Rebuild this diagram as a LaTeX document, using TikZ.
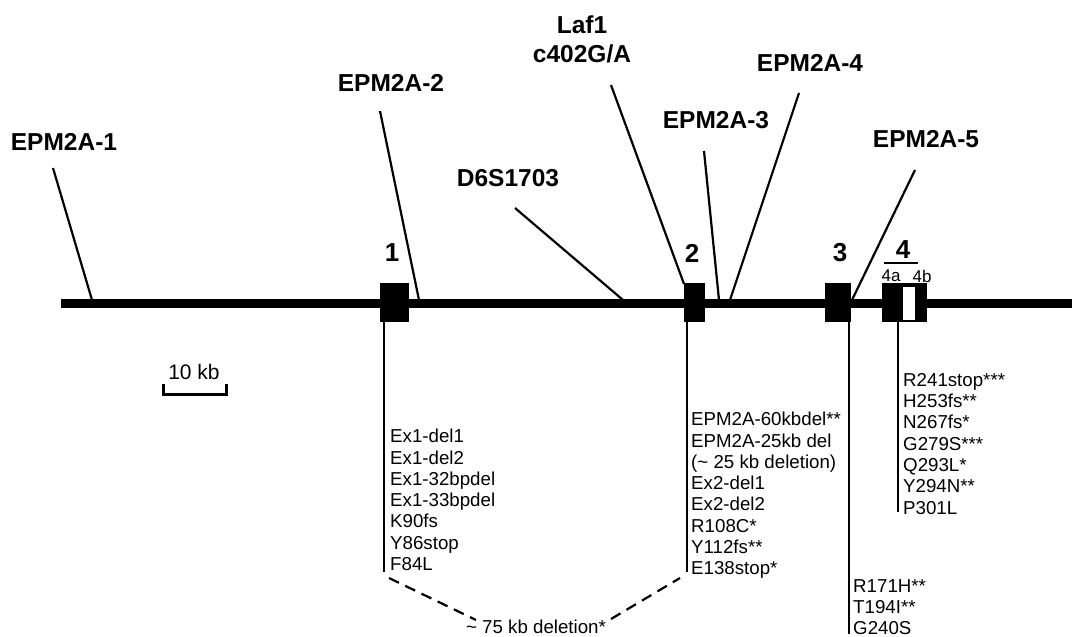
\documentclass[tikz,border=0pt]{standalone}
\usepackage{fontspec}
\setmainfont{Liberation Sans}
\begin{document}
\begin{tikzpicture}[x=1pt,y=-1pt,
  lbl/.style={font=\fontsize{24.5}{29}\selectfont\bfseries, inner sep=0, align=center},
  num/.style={font=\fontsize{26}{30}\selectfont\bfseries, inner sep=0},
  sub/.style={font=\fontsize{17}{18}\selectfont, inner sep=0},
  mut/.style={font=\fontsize{18.7}{21.3}\selectfont, inner sep=0, align=left, anchor=north west},
  ptr/.style={line width=2.2pt},
  stem/.style={line width=2pt},
  exon/.style={fill=black, draw=none, inner sep=0, minimum height=39pt},
  dashln/.style={line width=2.2pt, dash pattern=on 11pt off 7pt},
  gene/.style={line width=9pt}]
\useasboundingbox (0,0) rectangle (1072,637);

% gene line
\coordinate (gs) at (61,303.5);
\coordinate (ge) at (1072,303.5);
\draw[gene] (gs) -- (ge);

% exons
\node[exon, minimum width=29pt] (e1) at (394.5,302.5) {};
\node[exon, minimum width=21pt] (e2) at (694.5,302.5) {};
\node[exon, minimum width=26pt] (e3) at (838,302.5) {};
\node[exon, minimum width=45pt] (e4) at (904.5,302.5) {};
\node[fill=white, draw=black, line width=0.8pt, inner sep=0, minimum width=13pt, minimum height=34pt] (e4w) at (908.5,303) {};

% exon numbers
\node[num] (n1) at (392,253) {1};
\node[num] (n2) at (692,253) {2};
\node[num] (n3) at (840,253) {3};
\node[num] (n4) at (903,250) {4};
\coordinate (ol1) at (884,263);
\coordinate (ol2) at (918,263);
\draw[line width=2pt] (ol1) -- (ol2);
\node[sub] (n4a) at (891,276) {4a};
\node[sub] (n4b) at (922,276) {4b};

% top labels
\node[lbl] (L1) at (64,142) {EPM2A-1};
\node[lbl] (L2) at (391,83) {EPM2A-2};
\node[lbl] (LD) at (508,178) {D6S1703};
\node[lbl] (LL) at (582,39) {Laf1\\c402G/A};
\node[lbl] (L3) at (716,120) {EPM2A-3};
\node[lbl] (L4) at (810,63) {EPM2A-4};
\node[lbl] (L5) at (926,139) {EPM2A-5};

% pointer lines
\coordinate (a1) at (53,168);  \coordinate (b1) at (92,300);
\coordinate (a2) at (380,111); \coordinate (b2) at (419,300);
\coordinate (aD) at (515,208); \coordinate (bD) at (623,300);
\coordinate (aL) at (611,85);  \coordinate (bL) at (684,284);
\coordinate (a3) at (704,151); \coordinate (b3) at (719,300);
\coordinate (a4) at (799,93);  \coordinate (b4) at (730,300);
\coordinate (a5) at (915,170); \coordinate (b5) at (852,300);
\draw[ptr] (a1) -- (b1);
\draw[ptr] (a2) -- (b2);
\draw[ptr] (aD) -- (bD);
\draw[ptr] (aL) -- (bL);
\draw[ptr] (a3) -- (b3);
\draw[ptr] (a4) -- (b4);
\draw[ptr] (a5) -- (b5);

% stems below exons
\coordinate (s1) at (384,572);
\coordinate (s2) at (687,572);
\coordinate (s3) at (849,634);
\coordinate (s4) at (898,512);
\draw[stem] (e1.south -| s1) -- (s1);
\draw[stem] (e2.south -| s2) -- (s2);
\draw[stem] (e3.south -| s3) -- (s3);
\draw[stem] (e4.south -| s4) -- (s4);

% mutation lists
\node[mut] (m1) at (390,429) {Ex1-del1\\Ex1-del2\\Ex1-32bpdel\\Ex1-33bpdel\\K90fs\\Y86stop\\F84L};
\node[mut] (m2) at (691,412) {EPM2A-60kbdel**\\EPM2A-25kb del\\(\textasciitilde{} 25 kb deletion)\\Ex2-del1\\Ex2-del2\\R108C*\\Y112fs**\\E138stop*};
\node[mut] (m3) at (853,579) {R171H**\\T194I**\\G240S};
\node[mut] (m4) at (903,373) {R241stop***\\H253fs**\\N267fs*\\G279S***\\Q293L*\\Y294N**\\P301L};

% 75 kb deletion
\node[font=\fontsize{18.7}{21}\selectfont, inner sep=0] (del) at (536,627) {\textasciitilde{} 75 kb deletion*};
\coordinate (d1) at (389,578);
\coordinate (d2) at (476,620);
\coordinate (d3) at (611,619);
\coordinate (d4) at (680,578);
\draw[dashln] (d1) -- (d2);
\draw[dashln] (d3) -- (d4);

% scale bar
\node[font=\fontsize{21}{24}\selectfont, inner sep=0] (sc) at (194,372) {10 kb};
\coordinate (k1) at (163,384);
\coordinate (k2) at (163,394);
\coordinate (k3) at (226,394);
\coordinate (k4) at (226,384);
\draw[line width=3pt] (k1) -- (k2) -- (k3) -- (k4);
\end{tikzpicture}
\end{document}
